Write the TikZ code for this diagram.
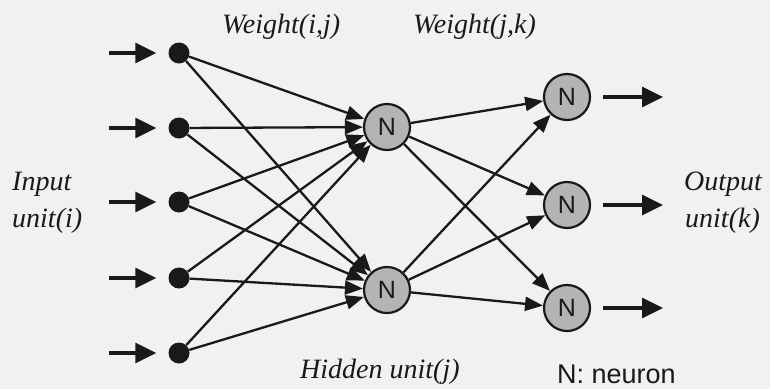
\documentclass[tikz,border=0pt]{standalone}
\usepackage{fontspec}
\setmainfont{Liberation Serif}
\newfontfamily\arialf{Liberation Sans}
\usetikzlibrary{arrows.meta}
\definecolor{bg}{RGB}{241,241,241}
\definecolor{ink}{RGB}{25,25,25}
\definecolor{neur}{RGB}{180,180,180}
\begin{document}
\begin{tikzpicture}[x=1pt,y=-1pt,
  dot/.style={circle,fill=ink,draw=none,minimum size=21pt,inner sep=0pt},
  neuron/.style={circle,fill=neur,draw=ink,line width=2.2pt,minimum size=46pt,inner sep=0pt,
    font=\arialf\fontsize{25}{25}\selectfont,text=ink},
  conn/.style={draw=ink,line width=2.3pt,-{Triangle[length=18pt,width=14pt]}},
  bigarrow/.style={draw=ink,line width=3.2pt,-{Triangle[length=21pt,width=20pt]}},
  lbl/.style={inner sep=0pt,text=ink,font=\fontsize{28}{30}\selectfont\itshape},
  legend/.style={inner sep=0pt,text=ink,font=\arialf\fontsize{27}{30}\selectfont}]
\fill[bg] (0,0) rectangle (770,389);
\useasboundingbox (0,0) rectangle (770,389);

% input units
\node[dot] (i1) at (179,53) {};
\node[dot] (i2) at (179,128) {};
\node[dot] (i3) at (179,202) {};
\node[dot] (i4) at (179,278) {};
\node[dot] (i5) at (179,353) {};

% hidden units
\node[neuron] (h1) at (387,127) {N};
\node[neuron] (h2) at (387,290) {N};

% output units
\node[neuron] (o1) at (567,97) {N};
\node[neuron] (o2) at (567,205) {N};
\node[neuron] (o3) at (567,308) {N};

% input arrows
\foreach \k/\y in {1/53,2/128,3/202,4/278,5/353}{
  \coordinate (s\k) at (109,\y);
  \draw[bigarrow,shorten >=12pt] (s\k) -- (i\k);
}
% output arrows
\foreach \k/\y in {1/97,2/205,3/308}{
  \coordinate (e\k) at (663,\y);
  \draw[bigarrow,shorten <=12pt] (o\k) -- (e\k);
}

% weights input -> hidden
\foreach \i in {1,...,5}{
  \foreach \h in {1,2}{
    \draw[conn] (i\i) -- (h\h);
  }
}
% weights hidden -> output
\foreach \h in {1,2}{
  \foreach \o in {1,2,3}{
    \draw[conn] (h\h) -- (o\o);
  }
}

% labels
\node[lbl,anchor=base west] (wij) at (222,33) {Weight(i,j)};
\node[lbl,anchor=base west] (wjk) at (413,33) {Weight(j,k)};
\node[lbl,anchor=base west] (inpA) at (12,190) {Input};
\node[lbl,anchor=base west] (inpB) at (12,227) {unit(i)};
\node[lbl,anchor=base west] (outA) at (684,190) {Output};
\node[lbl,anchor=base west] (outB) at (685,227) {unit(k)};
\node[lbl,anchor=base west] (hid) at (300,378) {Hidden unit(j)};
\node[legend,anchor=base west] (leg) at (557,383) {N: neuron};
\end{tikzpicture}
\end{document}
